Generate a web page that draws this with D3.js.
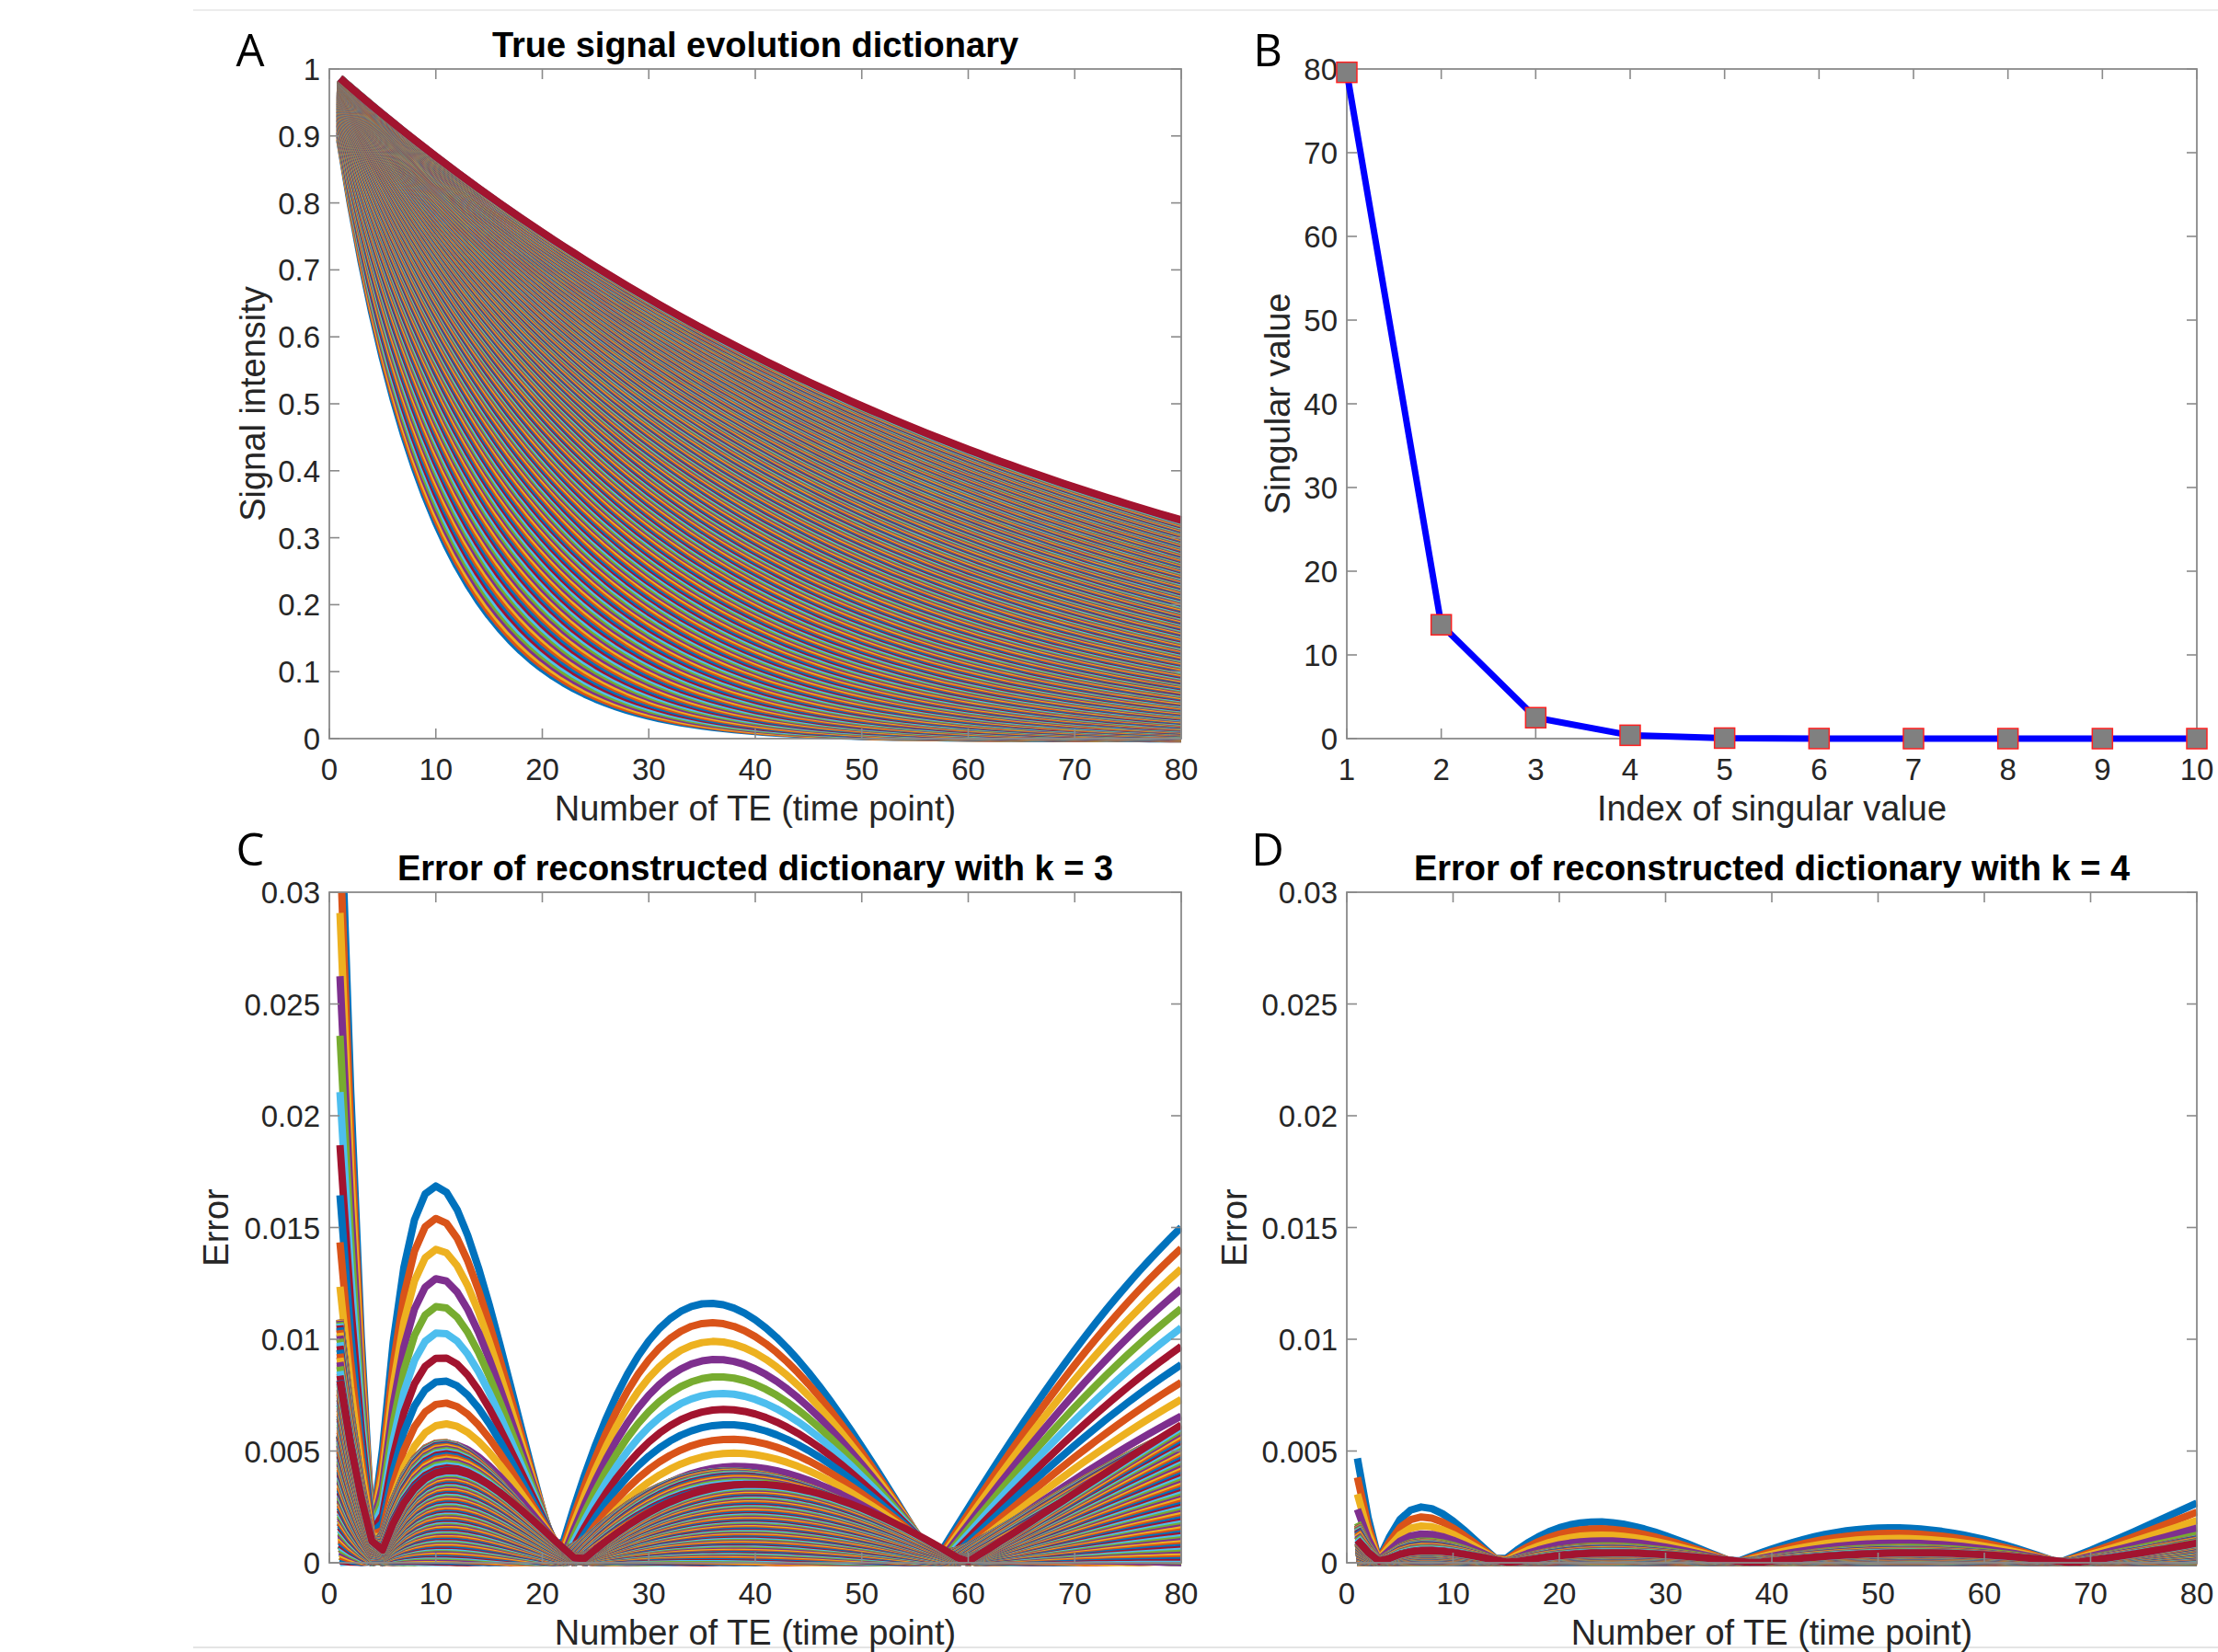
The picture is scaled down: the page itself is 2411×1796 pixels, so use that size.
<!DOCTYPE html>
<html><head><meta charset="utf-8">
<script src="https://cdn.jsdelivr.net/npm/d3@7"></script>
<style>body{margin:0;background:#fff}svg{display:block}</style>
</head><body>
<svg id="fig" width="2411" height="1796"></svg>
<script>
// ---------------- data ----------------
// echo (time point) numbers and dictionary parameters
const teNumbers = d3.range(1, 81);            // 80 time points
const echoSpacingMs = 7;                       // spacing between TEs
const t2FirstMs = 62, t2LastMs = 500, dictionarySize = 329;   // dictionary entries
// panel B
const singularIndex  = [1, 2, 3, 4, 5, 6, 7, 8, 9, 10];
const singularValues = [79.6, 13.6, 2.5, 0.4, 0.06, 0.008, 0.001, 0.0001, 0.00001, 0.000001];
// ranks used for panels C and D
const rankC = 3, rankD = 4;
// ticks
const teTicks = [0, 10, 20, 30, 40, 50, 60, 70, 80];
const teTickLabels = ["0", "10", "20", "30", "40", "50", "60", "70", "80"];
const signalTicks = [0, 0.1, 0.2, 0.3, 0.4, 0.5, 0.6, 0.7, 0.8, 0.9, 1];
const signalTickLabels = ["0", "0.1", "0.2", "0.3", "0.4", "0.5", "0.6", "0.7", "0.8", "0.9", "1"];
const svTicks = [0, 10, 20, 30, 40, 50, 60, 70, 80];
const svTickLabels = ["0", "10", "20", "30", "40", "50", "60", "70", "80"];
const idxTicks = [1, 2, 3, 4, 5, 6, 7, 8, 9, 10];
const idxTickLabels = ["1", "2", "3", "4", "5", "6", "7", "8", "9", "10"];
const errTicks = [0, 0.005, 0.01, 0.015, 0.02, 0.025, 0.03];
const errTickLabels = ["0", "0.005", "0.01", "0.015", "0.02", "0.025", "0.03"];
const lineColors = ["#0072BD", "#D95319", "#EDB120", "#7E2F8E", "#77AC30", "#4DBEEE", "#A2142F"];

// ---------------- dictionary & low-rank errors ----------------
const t2List = d3.range(dictionarySize).map(i => t2FirstMs + (t2LastMs - t2FirstMs) * i / (dictionarySize - 1));
const dictionary = t2List.map(t2 => teNumbers.map(n => Math.exp(-n * echoSpacingMs / t2)));

function jacobiEig(A) {
  const n = A.length;
  const V = Array.from({length: n}, (_, i) => { const r = new Float64Array(n); r[i] = 1; return r; });
  for (let sweep = 0; sweep < 60; sweep++) {
    let off = 0;
    for (let p = 0; p < n; p++) for (let q = p + 1; q < n; q++) off += A[p][q] * A[p][q];
    if (off < 1e-28) break;
    for (let p = 0; p < n; p++) {
      for (let q = p + 1; q < n; q++) {
        const apq = A[p][q];
        if (Math.abs(apq) < 1e-300) continue;
        const theta = (A[q][q] - A[p][p]) / (2 * apq);
        const t = (theta >= 0 ? 1 : -1) / (Math.abs(theta) + Math.sqrt(theta * theta + 1));
        const c = 1 / Math.sqrt(t * t + 1), s = t * c;
        for (let k = 0; k < n; k++) {
          const akp = A[k][p], akq = A[k][q];
          A[k][p] = c * akp - s * akq; A[k][q] = s * akp + c * akq;
        }
        for (let k = 0; k < n; k++) {
          const apk = A[p][k], aqk = A[q][k];
          A[p][k] = c * apk - s * aqk; A[q][k] = s * apk + c * aqk;
        }
        for (let k = 0; k < n; k++) {
          const vkp = V[k][p], vkq = V[k][q];
          V[k][p] = c * vkp - s * vkq; V[k][q] = s * vkp + c * vkq;
        }
      }
    }
  }
  return {values: A.map((r, i) => r[i]), V};
}
const nT = teNumbers.length;
const gram = Array.from({length: nT}, () => new Float64Array(nT));
dictionary.forEach(sig => {
  for (let i = 0; i < nT; i++) for (let j = 0; j < nT; j++) gram[i][j] += sig[i] * sig[j];
});
const eig = jacobiEig(gram);
const order = d3.range(nT).sort((a, b) => eig.values[b] - eig.values[a]);
function lowRankError(k) {
  const basis = order.slice(0, k).map(c => eig.V.map(row => row[c]));
  return dictionary.map(sig => {
    const coef = basis.map(b => d3.sum(b, (bv, t) => bv * sig[t]));
    return sig.map((s, t) => Math.abs(s - d3.sum(basis, (b, j) => coef[j] * b[t])));
  });
}
const errorsC = lowRankError(rankC);
const errorsD = lowRankError(rankD);

// ---------------- drawing ----------------
const svg = d3.select("#fig");
svg.append("rect").attr("width", 2411).attr("height", 1796).attr("fill", "#fff");
const FONT = "'Liberation Sans', Arial, Helvetica, sans-serif";
const axisColor = "#8a8a8a", textColor = "#262626";

// faint slide frame lines
svg.append("line").attr("x1", 210).attr("x2", 2411).attr("y1", 11).attr("y2", 11).attr("stroke", "#ececec").attr("stroke-width", 2);
svg.append("line").attr("x1", 210).attr("x2", 2411).attr("y1", 1791).attr("y2", 1791).attr("stroke", "#e4e4e4").attr("stroke-width", 2);

const panels = {
  A: {x0: 358, x1: 1284, y0: 75, y1: 803, letterDy: 3},
  B: {x0: 1464, x1: 2388, y0: 75, y1: 803, letterDy: 3},
  C: {x0: 358, x1: 1284, y0: 970, y1: 1699, letterDy: 29},
  D: {x0: 1464, x1: 2388, y0: 970, y1: 1699, letterDy: 29}
};

function drawFrame(p, x, y, xt, xl, yt, yl) {
  const g = svg.append("g");
  const tl = 11;
  xt.forEach(v => {
    const px = x(v);
    g.append("line").attr("x1", px).attr("x2", px).attr("y1", p.y1).attr("y2", p.y1 - tl).attr("stroke", axisColor).attr("stroke-width", 1.6);
    g.append("line").attr("x1", px).attr("x2", px).attr("y1", p.y0).attr("y2", p.y0 + tl).attr("stroke", axisColor).attr("stroke-width", 1.6);
  });
  yt.forEach(v => {
    const py = y(v);
    g.append("line").attr("x1", p.x0).attr("x2", p.x0 + tl).attr("y1", py).attr("y2", py).attr("stroke", axisColor).attr("stroke-width", 1.6);
    g.append("line").attr("x1", p.x1).attr("x2", p.x1 - tl).attr("y1", py).attr("y2", py).attr("stroke", axisColor).attr("stroke-width", 1.6);
  });
  g.append("rect").attr("x", p.x0).attr("y", p.y0).attr("width", p.x1 - p.x0).attr("height", p.y1 - p.y0)
    .attr("fill", "none").attr("stroke", axisColor).attr("stroke-width", 1.8);
  xt.forEach((v, i) => {
    g.append("text").attr("x", x(v)).attr("y", p.y1 + 45).attr("text-anchor", "middle")
      .attr("font-family", FONT).attr("font-size", 33).attr("fill", textColor).text(xl[i]);
  });
  yt.forEach((v, i) => {
    g.append("text").attr("x", p.x0 - 10).attr("y", y(v) + 12).attr("text-anchor", "end")
      .attr("font-family", FONT).attr("font-size", 33).attr("fill", textColor).text(yl[i]);
  });
}
function axisTitles(p, xlabel, ylabel, ylabelGap, title, letter) {
  const cx = (p.x0 + p.x1) / 2, cy = (p.y0 + p.y1) / 2;
  svg.append("text").attr("x", cx).attr("y", p.y1 + 89).attr("text-anchor", "middle")
    .attr("font-family", FONT).attr("font-size", 38).attr("fill", textColor).text(xlabel);
  svg.append("text").attr("transform", `translate(${p.x0 - ylabelGap},${cy}) rotate(-90)`).attr("text-anchor", "middle")
    .attr("font-family", FONT).attr("font-size", 38).attr("fill", textColor).text(ylabel);
  if (title) svg.append("text").attr("x", cx).attr("y", p.y0 - 13).attr("text-anchor", "middle")
    .attr("font-family", FONT).attr("font-size", 38).attr("font-weight", "bold").attr("fill", "#000").text(title);
  svg.append("text").attr("x", p.x0 - 86).attr("y", p.y0 - p.letterDy).attr("text-anchor", "middle")
    .attr("font-family", "'Open Sans', 'Liberation Sans', sans-serif").attr("font-size", 49).attr("fill", "#000").text(letter);
}

function drawCurves(p, key, x, y, data, width) {
  const clipId = "clip" + key;
  svg.append("clipPath").attr("id", clipId).append("rect")
    .attr("x", p.x0 - 10).attr("y", p.y0).attr("width", p.x1 - p.x0 + 11).attr("height", p.y1 - p.y0 + 8);
  const line = d3.line().x((d, i) => x(teNumbers[i])).y(d => y(d));
  svg.append("g").attr("clip-path", `url(#${clipId})`)
    .selectAll("path").data(data).join("path")
    .attr("d", line).attr("fill", "none")
    .attr("stroke", (d, i) => lineColors[i % lineColors.length])
    .attr("stroke-width", width).attr("stroke-linejoin", "round");
}

// Panel A
{
  const p = panels.A;
  const x = d3.scaleLinear().domain([0, 80]).range([p.x0, p.x1]);
  const y = d3.scaleLinear().domain([0, 1]).range([p.y1, p.y0]);
  drawCurves(p, "A", x, y, dictionary, 8.5);
  drawFrame(p, x, y, teTicks, teTickLabels, signalTicks, signalTickLabels);
  axisTitles(p, "Number of TE (time point)", "Signal intensity", 70, "True signal evolution dictionary", "A");
}
// Panel B
{
  const p = panels.B;
  const x = d3.scaleLinear().domain([1, 10]).range([p.x0, p.x1]);
  const y = d3.scaleLinear().domain([0, 80]).range([p.y1, p.y0]);
  drawFrame(p, x, y, idxTicks, idxTickLabels, svTicks, svTickLabels);
  const pts = singularIndex.map((k, i) => [k, singularValues[i]]);
  svg.append("path").datum(pts)
    .attr("d", d3.line().x(d => x(d[0])).y(d => y(d[1])))
    .attr("fill", "none").attr("stroke", "#0000FF").attr("stroke-width", 7).attr("stroke-linejoin", "round");
  const ms = 22;
  svg.append("g").selectAll("rect").data(pts).join("rect")
    .attr("x", d => x(d[0]) - ms / 2).attr("y", d => y(d[1]) - ms / 2)
    .attr("width", ms).attr("height", ms)
    .attr("fill", "#808080").attr("stroke", "#FF2020").attr("stroke-width", 1.5);
  axisTitles(p, "Index of singular value", "Singular value", 62, null, "B");
}
// Panel C
{
  const p = panels.C;
  const x = d3.scaleLinear().domain([0, 80]).range([p.x0, p.x1]);
  const y = d3.scaleLinear().domain([0, 0.03]).range([p.y1, p.y0]);
  drawCurves(p, "C", x, y, errorsC, 8);
  drawFrame(p, x, y, teTicks, teTickLabels, errTicks, errTickLabels);
  axisTitles(p, "Number of TE (time point)", "Error", 110, "Error of reconstructed dictionary with k = 3", "C");
}
// Panel D
{
  const p = panels.D;
  const x = d3.scaleLinear().domain([0, 80]).range([p.x0, p.x1]);
  const y = d3.scaleLinear().domain([0, 0.03]).range([p.y1, p.y0]);
  drawCurves(p, "D", x, y, errorsD, 8);
  drawFrame(p, x, y, teTicks, teTickLabels, errTicks, errTickLabels);
  axisTitles(p, "Number of TE (time point)", "Error", 109, "Error of reconstructed dictionary with k = 4", "D");
}
</script>
</body></html>
